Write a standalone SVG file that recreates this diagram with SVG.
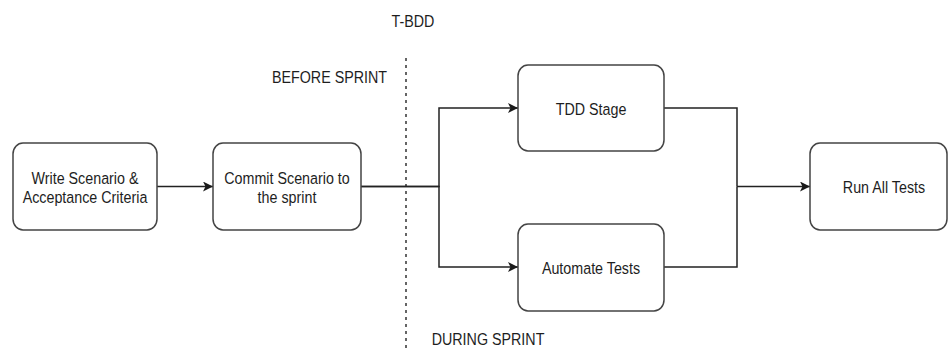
<svg xmlns="http://www.w3.org/2000/svg" width="949" height="349" viewBox="0 0 949 349">
  <defs>
    <marker id="arrow" viewBox="0 0 10 10" refX="10" refY="5" markerWidth="10" markerHeight="10" markerUnits="userSpaceOnUse" orient="auto">
      <path d="M0,0 L10,5 L0,10 L2.5,5 Z" fill="#1a1a1a"/>
    </marker>
  </defs>
  <style>
    .box { fill: #ffffff; stroke: #444444; stroke-width: 1.5; }
    .edge { fill: none; stroke: #222222; stroke-width: 1.5; marker-end: url(#arrow); }
    .line { fill: none; stroke: #222222; stroke-width: 1.5; }
    .divider { stroke: #333333; stroke-width: 1.5; stroke-dasharray: 3 4; }
    text { font-family: "Liberation Sans", Arial, sans-serif; font-size: 14.3px; fill: #1e1e1e; }
    .c { text-anchor: middle; }
  </style>

  <rect width="949" height="349" fill="#ffffff"/>

  <!-- sprint divider and section labels -->
  <g id="labels">
    <line class="divider" x1="406" y1="58" x2="406" y2="349"/>
    <text class="c" transform="translate(413,27) scale(1,1.2)">T-BDD</text>
    <text class="c" transform="translate(329.5,83) scale(1,1.2)">BEFORE SPRINT</text>
    <text class="c" transform="translate(488,345) scale(1,1.2)">DURING SPRINT</text>
  </g>

  <!-- connectors -->
  <g id="connectors">
    <path class="edge" d="M157,186.5 H213"/>
    <path class="edge" d="M361,186.5 H439 V108 H518"/>
    <path class="edge" d="M361,186.5 H439 V267 H518"/>
    <path class="line" d="M664,108 H737 V186.5"/>
    <path class="line" d="M664,267 H737 V186.5"/>
    <path class="edge" d="M737,186.5 H810"/>
  </g>

  <g id="write-scenario">
    <rect class="box" x="13" y="143" width="144" height="87" rx="10" ry="11"/>
    <text class="c" transform="translate(85,184) scale(1,1.2)">Write Scenario &amp;</text>
    <text class="c" transform="translate(85,203) scale(1,1.2)">Acceptance Criteria</text>
  </g>

  <g id="commit-scenario">
    <rect class="box" x="213" y="143" width="148" height="87" rx="10" ry="11"/>
    <text class="c" transform="translate(287,184) scale(1,1.2)">Commit Scenario to</text>
    <text class="c" transform="translate(287,203) scale(1,1.2)">the sprint</text>
  </g>

  <g id="tdd-stage">
    <rect class="box" x="518" y="65" width="146" height="86" rx="10" ry="11"/>
    <text class="c" transform="translate(591,115) scale(1,1.2)">TDD Stage</text>
  </g>

  <g id="automate-tests">
    <rect class="box" x="518" y="224" width="146" height="87" rx="10" ry="11"/>
    <text class="c" transform="translate(591,274) scale(1,1.2)">Automate Tests</text>
  </g>

  <g id="run-all-tests">
    <rect class="box" x="810" y="143" width="137" height="87" rx="10" ry="11"/>
    <text class="c" transform="translate(884,193) scale(1,1.2)">Run All Tests</text>
  </g>
</svg>
